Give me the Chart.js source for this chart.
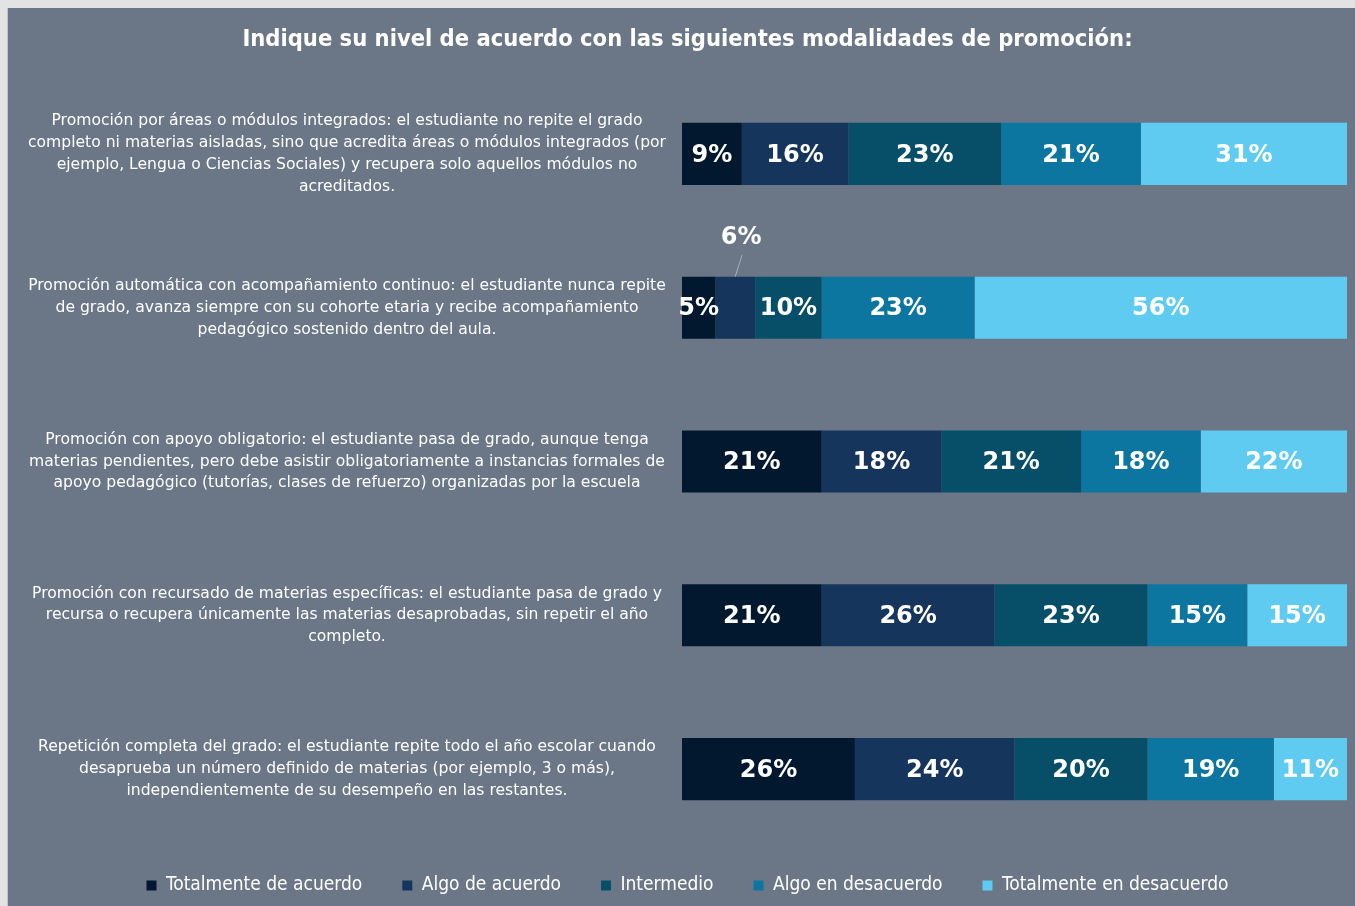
<!DOCTYPE html>
<html><head><meta charset="utf-8">
<script src="https://cdn.jsdelivr.net/npm/chart.js@4.4.1/dist/chart.umd.min.js"></script>
<style>
html,body{margin:0;padding:0;background:#e3e3e3;}
#wrap{position:absolute;left:8px;top:8px;width:1347px;height:898px;background:#6b7787;box-shadow:-1px 0 0 #c4c4c4;}
#wrap canvas{display:block}
</style></head><body>
<div id="wrap"><canvas id="c" width="1347" height="898"></canvas></div>
<script>
const chartTitle = "Indique su nivel de acuerdo con las siguientes modalidades de promoción:";
const categories = [
  ["Promoción por áreas o módulos integrados: el estudiante no repite el grado",
   "completo ni materias aisladas, sino que acredita áreas o módulos integrados (por",
   "ejemplo, Lengua o Ciencias Sociales) y recupera solo aquellos módulos no",
   "acreditados."],
  ["Promoción automática con acompañamiento continuo: el estudiante nunca repite",
   "de grado, avanza siempre con su cohorte etaria y recibe acompañamiento",
   "pedagógico sostenido dentro del aula."],
  ["Promoción con apoyo obligatorio: el estudiante pasa de grado, aunque tenga",
   "materias pendientes, pero debe asistir obligatoriamente a instancias formales de",
   "apoyo pedagógico (tutorías, clases de refuerzo) organizadas por la escuela"],
  ["Promoción con recursado de materias específicas: el estudiante pasa de grado y",
   "recursa o recupera únicamente las materias desaprobadas, sin repetir el año",
   "completo."],
  ["Repetición completa del grado: el estudiante repite todo el año escolar cuando",
   "desaprueba un número definido de materias (por ejemplo, 3 o más),",
   "independientemente de su desempeño en las restantes."]
];
const seriesNames = ["Totalmente de acuerdo", "Algo de acuerdo", "Intermedio", "Algo en desacuerdo", "Totalmente en desacuerdo"];
const totalmenteDeAcuerdo    = [9, 5, 21, 21, 26];
const algoDeAcuerdo          = [16, 6, 18, 26, 24];
const intermedio             = [23, 10, 21, 23, 20];
const algoEnDesacuerdo       = [21, 23, 18, 15, 19];
const totalmenteEnDesacuerdo = [31, 56, 22, 15, 11];
const seriesValues = [totalmenteDeAcuerdo, algoDeAcuerdo, intermedio, algoEnDesacuerdo, totalmenteEnDesacuerdo];
const seriesColors = ["#01182f", "#16355c", "#074f69", "#0c76a0", "#5fcbf1"];
const calloutLabel = {category: 1, series: 1};

const COND = '"DejaVu Sans Condensed", "DejaVu Sans", sans-serif';
const REG = '"DejaVu Sans", sans-serif';

const barLabels = {
  id: 'barLabels',
  afterDatasetsDraw(chart) {
    const ctx = chart.ctx;
    ctx.save();
    ctx.font = 'bold 24px "DejaVu Sans", sans-serif';
    ctx.fillStyle = '#ffffff';
    ctx.textAlign = 'center';
    ctx.textBaseline = 'middle';
    chart.data.datasets.forEach((ds, di) => {
      const meta = chart.getDatasetMeta(di);
      meta.data.forEach((el, i) => {
        const txt = ds.data[i] + '%';
        const cx = (el.x + el.base) / 2;
        if (di === calloutLabel.series && i === calloutLabel.category) {
          const top = el.y - el.height / 2;
          ctx.strokeStyle = '#a9adb3';
          ctx.lineWidth = 1;
          ctx.beginPath();
          ctx.moveTo(cx, top);
          ctx.lineTo(cx + 7, top - 22);
          ctx.stroke();
          ctx.fillText(txt, cx + 6, top - 39);
        } else {
          ctx.fillText(txt, cx, el.y + 1.5);
        }
      });
    });
    ctx.restore();
  }
};

new Chart(document.getElementById('c'), {
  type: 'bar',
  data: {
    labels: categories,
    datasets: seriesNames.map((name, k) => ({
      label: name,
      data: seriesValues[k],
      backgroundColor: seriesColors[k],
      borderWidth: 0,
      barPercentage: 0.404,
      categoryPercentage: 1
    }))
  },
  options: {
    indexAxis: 'y',
    responsive: false,
    animation: false,
    layout: {padding: {left: 20, right: 8, top: 0, bottom: 1}},
    scales: {
      x: {stacked: true, min: 0, max: 100, display: false},
      y: {
        stacked: true,
        grid: {display: false, drawTicks: false},
        border: {display: false},
        ticks: {
          color: '#ffffff',
          font: {family: REG, size: 15.6, lineHeight: 1.4},
          padding: 16,
          crossAlign: 'center',
          autoSkip: false
        },
        afterFit(scale) { scale.width = 654; }
      }
    },
    plugins: {
      title: {
        display: true,
        text: chartTitle,
        color: '#ffffff',
        font: {family: COND, size: 23.5, weight: 'bold', lineHeight: 1.2},
        padding: {top: 18, bottom: 22.8}
      },
      legend: {
        position: 'bottom',
        labels: {
          color: '#ffffff',
          font: {family: COND, size: 19},
          boxWidth: 10,
          boxHeight: 10,
          padding: 40
        },
        title: {display: true, text: '', font: {size: 1, lineHeight: 1}, padding: {top: -11, bottom: 0}}
      },
      tooltip: {enabled: false}
    }
  },
  plugins: [barLabels]
});
</script>
</body></html>
